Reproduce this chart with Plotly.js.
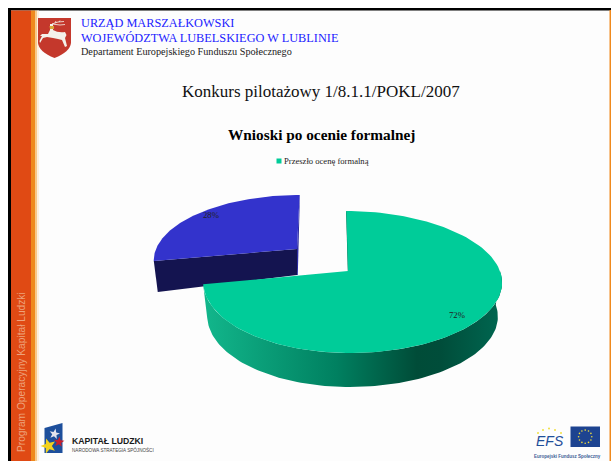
<!DOCTYPE html>
<html><head><meta charset="utf-8">
<script src="https://cdn.plot.ly/plotly-3.0.1.min.js"></script>
<style>html,body{margin:0;padding:0;background:#fff}#c{width:611px;height:461px}</style>
</head><body><div id="c"></div>
<script>
const categories = ["Przeszło ocenę formalną", "Nie przeszło oceny formalnej"];
const shares = [72, 28];
const shareLabels = ["72%", "28%"];
const pageTitle = "Konkurs pilotażowy 1/8.1.1/POKL/2007";
const chartTitle = "Wnioski po ocenie formalnej";
const colors = {green:"#00cc99", blue:"#3333cc", navy:"#141450", greenEdge:"#005a44", blueEdge:"#2a2aa0"};
const serif = "Liberation Serif", sans = "Liberation Sans";

// tilted-disc projection; angles are derived from the shares
function project(p, deg){
  const t = deg*Math.PI/180, a = Math.sin(t), b = Math.cos(t), w = 1 + 0.155*b;
  return [p.x + (p.A*a + p.D*a*a + p.C*b)/w, p.y - p.B*b/w];
}
function arc(p, from, to){
  const out = [], n = 120;
  for(let i=0;i<=n;i++) out.push(project(p, from+(to-from)*i/n));
  return out;
}
const greenP = {x:348, y:271, A:147.75, D:4.25, C:-2, B:69.3};
const blueP  = {x:297, y:249, A:141, D:0, C:3, B:62.4};
const greenEnd = shares[0]/100*360;
const greenArc = arc(greenP, 0, greenEnd);
const blueArc = arc(blueP, greenEnd, 360);

function poly(points, color, extra){
  return Object.assign({type:"scatter", mode:"lines", x:points.map(q=>q[0]), y:points.map(q=>q[1]),
    fill:"toself", fillcolor:color, line:{width:0,color:color}, hoverinfo:"skip", showlegend:false}, extra||{});
}
// green wall: visible lower rim from right extreme round to the left end
const wallTop = arc(greenP, 90, greenEnd);
const wallBottom = wallTop.map(q=>[350+(q[0]-350)*0.972, q[1]+34]).reverse();
const wallGrad = {type:"horizontal", start:203, stop:500, colorscale:[
  [0,"#12b78c"],[0.2,"#0a9e78"],[0.45,"#008060"],[0.72,"#004c38"],[0.8,"#004d3a"],[1,"#006650"]]};
const wall = poly(wallTop.concat(wallBottom), colors.green, {fillgradient:wallGrad});

// blue slice faces
const blueFar = blueArc[blueArc.length-1];
const blueLeft = blueArc[0];
const blueCentre = [blueP.x, blueP.y];
const blueFront = poly([blueLeft, blueCentre, [blueCentre[0], blueCentre[1]+26], [blueLeft[0]+4, blueLeft[1]+31]], colors.navy);
const blueSide = poly([blueFar, [blueFar[0]+0.3, blueFar[1]], [blueCentre[0]+0.8, blueCentre[1]+26], [blueCentre[0], blueCentre[1]+26], blueCentre], colors.blueEdge);
const blueTop = poly([blueCentre].concat(blueArc), colors.blue);
const greenStart = greenArc[0];
const greenCentre = [greenP.x, greenP.y];
const greenInner = poly([[greenStart[0]-0.2,greenStart[1]], [greenStart[0]+2,greenStart[1]+1], [greenCentre[0]+1,greenCentre[1]], [greenCentre[0]-0.2,greenCentre[1]]], colors.greenEdge);
const greenTop = poly([greenCentre].concat(greenArc), colors.green);

const swatch = {type:"scatter", mode:"markers", x:[279], y:[161], marker:{symbol:"square", size:5, color:colors.green}, showlegend:false, hoverinfo:"skip"};

const traces = [blueFront, blueSide, blueTop, wall, greenInner, greenTop, swatch];

function txt(text,x,y,size,color,opt){
  return Object.assign({text, x, y, xref:"x", yref:"y", showarrow:false, xanchor:"left", yanchor:"middle",
    font:{family:serif,size,color}}, opt||{});
}
function rect(x0,y0,x1,y1,color){
  return {type:"rect", xref:"x", yref:"y", x0,y0,x1,y1, fillcolor:color, line:{width:0}, layer:"below"};
}
function path(d,color,layer){
  return {type:"path", xref:"x", yref:"y", path:d, fillcolor:color, line:{width:0}, layer:layer||"above"};
}
function stroke(d,color,w){
  return {type:"path", xref:"x", yref:"y", path:d, line:{width:w,color:color}, layer:"above"};
}
function star(cx,cy,r,color,rot){
  let d="";
  for(let i=0;i<10;i++){
    const ang=(rot||0)+i*36*Math.PI/180, rad=i%2?r*0.42:r;
    d+=(i?"L":"M")+(cx+rad*Math.sin(ang)).toFixed(1)+","+(cy-rad*Math.cos(ang)).toFixed(1)+" ";
  }
  return path(d+"Z",color);
}
const annotations = [
  txt("URZĄD MARSZAŁKOWSKI",78.5,23,12.3,"#2222ff"),
  txt("WOJEWÓDZTWA LUBELSKIEGO W LUBLINIE",78.5,38,12.3,"#2222ff"),
  txt("Departament Europejskiego Funduszu Społecznego",78.5,51,10.2,"#222222"),
  txt(pageTitle,321,91,17,"#111111",{xanchor:"center"}),
  txt("<b>"+chartTitle+"</b>",321,134,15.3,"#000000",{xanchor:"center"}),
  txt(categories[0],282,161,8.6,"#222222"),
  txt(shareLabels[0],457,315,8.7,"#222222",{xanchor:"center"}),
  txt(shareLabels[1],211,215,8.7,"#222222",{xanchor:"center"}),
  txt("Program Operacyjny Kapitał Ludzki",21,372,10.2,"#eda27c",{xanchor:"center",textangle:-90,font:{family:sans,size:10.2,color:"#eda27c"}}),
  txt("<b>KAPITAŁ LUDZKI</b>",70,441,8.7,"#1a1a1a",{font:{family:sans,size:8.7,color:"#1a1a1a"}}),
  txt("NARODOWA STRATEGIA SPÓJNOŚCI",70,449.5,4.6,"#444444",{font:{family:sans,size:4.6,color:"#444444"}}),
  txt("<i>EFS</i>",549.5,441,14,"#1f4e9a",{xanchor:"center",font:{family:sans,size:14,color:"#1f4e9a"}}),
  txt("<b>Europejski Fundusz Społeczny</b>",567,456,4.5,"#3d5e96",{xanchor:"center",font:{family:sans,size:4.5,color:"#3d5e96"}})
];
const shapes = [
  rect(39,10.5,609.5,461,"#fdfdfd"),
  rect(8,8,611,10.5,"#000000"),
  rect(8,8,11,461,"#000000"),
  rect(11,10.5,31,461,"#e04a14"),
  rect(31,10.5,35,461,"#ef8a1e"),
  rect(35,10.5,37,461,"#f7c98a"),
  rect(37,10.5,39,461,"#fdf0de"),
  rect(609.5,10,611,461,"#ef8a1e"),
  // crest
  path("M38,18 L71,18 L71,43 Q70,52 54.5,58 Q39,52 38,43 Z","#c4382c"),
  // deer
  path("M50,24 L53,24 L53,30 Q58,33 65,32 L66.5,35 L65,38 L67,46 L65,47 L62,40 L58,39 L53,38 L47,37 L43,38 L40,43 L39.5,41 L42,36 L40,36 L42,34 L48,34 L50,30 Z","#f4f1ea"),
  stroke("M52,24 L58,22 L64,21.5 M55,23 L56,21 M59,22 L60,20.5 M52,24 L60,25 L65,24.5","#f4f1ea",0.8),
  path("M49.5,26 L54,26 L54,29 L50,29 Z","#d9a63a"),
  // Kapitał Ludzki mark
  path("M44.5,428 L62.5,423 L62.5,453 L44.5,453 Z","#1d4f9c"),
  star(54.5,434,5.5,"#e4e4ec",0.2),
  star(59,442,5.5,"#c8202c",0.1),
  star(48.5,446,8,"#f2d21e",-0.3),
  // EU flag
  rect(570.5,426.5,600,447,"#1d4390")
];
for(let i=0;i<12;i++){
  const t=i*30*Math.PI/180;
  shapes.push({type:"circle", xref:"x", yref:"y", x0:585.2+6.6*Math.sin(t)-0.8, x1:585.2+6.6*Math.sin(t)+0.8,
    y0:436.7-6.6*Math.cos(t)-0.8, y1:436.7-6.6*Math.cos(t)+0.8, fillcolor:"#f0dc3c", line:{width:0}});
}
for(const [x,y] of [[538,433],[543,430],[549,428.5],[555,430],[561,433]]){
  shapes.push({type:"circle", xref:"x", yref:"y", x0:x-1,x1:x+1,y0:y-1,y1:y+1, fillcolor:"#f0e040", line:{width:0}});
}
const layout = {
  width:611, height:461, margin:{l:0,r:0,t:0,b:0}, paper_bgcolor:"#ffffff", plot_bgcolor:"#ffffff", showlegend:false,
  xaxis:{range:[0,611], visible:false, fixedrange:true},
  yaxis:{range:[461,0], visible:false, fixedrange:true},
  shapes, annotations
};
Plotly.newPlot("c", traces, layout, {displayModeBar:false, staticPlot:true});
</script></body></html>
